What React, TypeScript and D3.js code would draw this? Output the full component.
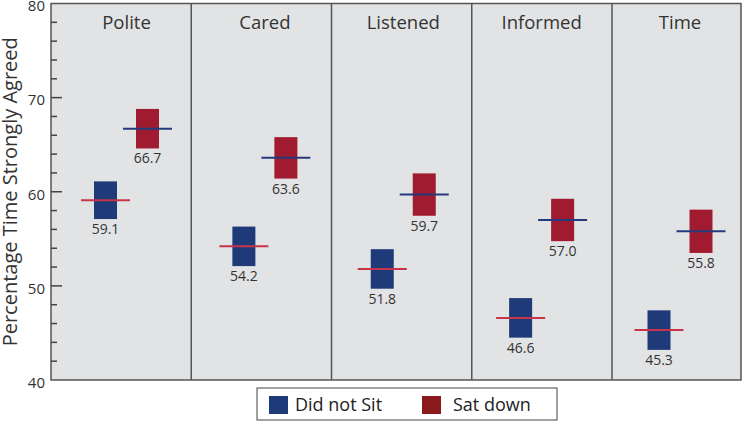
import React from "react";
import * as d3 from "d3";

const categories = ["Polite", "Cared", "Listened", "Informed", "Time"];
const didNotSit = [59.1, 54.2, 51.8, 46.6, 45.3];
const satDown = [66.7, 63.6, 59.7, 57.0, 55.8];
const didNotSitErr = [2.0, 2.1, 2.1, 2.1, 2.1];
const satDownErr = [2.1, 2.2, 2.25, 2.25, 2.3];
const yTicksMajor = [40, 50, 60, 70, 80];
const seriesNames = ["Did not Sit", "Sat down"];

const W = 747;
const H = 427;
const FONT = "'Open Sans', 'Noto Sans', sans-serif";
const BLUE = "#1f3a78";
const RED = "#a11b30";
const RED_LINE = "#c8344a";
const BLUE_LINE = "#243a7c";
const LEG_RED = "#8a1a1e";

export default function App() {
  const plotL = 51, plotR = 741, plotT = 3.5, plotB = 380;
  const y = d3.scaleLinear().domain([40, 80]).range([plotB, plotT]);
  const divX = d3.scaleLinear().domain([0, 4]).range([plotL, 612]);
  const groupX = d3.scaleLinear().domain([0, 4]).range([126.5, 680]);
  const off = 21;
  const boxW = 23;
  const lineW = 49;
  const minorTicks = d3.range(40, 81, 2);

  const series = [
    { name: seriesNames[0], vals: didNotSit, err: didNotSitErr, fill: BLUE, line: RED_LINE, dx: -off },
    { name: seriesNames[1], vals: satDown, err: satDownErr, fill: RED, line: BLUE_LINE, dx: off },
  ];

  return (
    <svg width={W} height={H} style={{ position: "absolute", left: 0, top: 0, background: "#fff" }} fontFamily={FONT}>
      <rect x={plotL} y={plotT} width={plotR - plotL} height={plotB - plotT} fill="#e2e3e5" />
      {categories.slice(1).map((c, i) => (
        <line key={c} x1={divX(i + 1)} x2={divX(i + 1)} y1={plotT} y2={plotB} stroke="#555" strokeWidth={1.5} />
      ))}
      <rect x={plotL} y={plotT} width={plotR - plotL} height={plotB - plotT} fill="none" stroke="#555" strokeWidth={1.5} />
      {minorTicks.map((t) => {
        const major = yTicksMajor.includes(t);
        if (t === 40 || t === 80) return null;
        return (
          <line key={t} x1={plotL} x2={plotL + (major ? 11 : 6)} y1={y(t)} y2={y(t)} stroke="#444" strokeWidth={1.5} />
        );
      })}
      {yTicksMajor.map((t) => (
        <text key={t} x={45} y={y(t) + 2.5} dy="0.35em" textAnchor="end" fontSize={15} fill="#333">{t}</text>
      ))}
      <text transform={`translate(17,${(plotT + plotB) / 2}) rotate(-90)`} textAnchor="middle" fontSize={20} fill="#333">
        Percentage Time Strongly Agreed
      </text>
      {categories.map((c, i) => (
        <text key={c} x={groupX(i)} y={29} textAnchor="middle" fontSize={18.5} fill="#333">{c}</text>
      ))}
      {series.map((s) =>
        categories.map((c, i) => {
          const cx = groupX(i) + s.dx;
          const v = s.vals[i];
          const top = y(v + s.err[i]);
          const bot = y(v - s.err[i]);
          return (
            <g key={s.name + c}>
              <rect x={cx - boxW / 2} y={top} width={boxW} height={bot - top} fill={s.fill} />
              <line x1={cx - lineW / 2} x2={cx + lineW / 2} y1={y(v)} y2={y(v)} stroke={s.line} strokeWidth={2} />
              <text x={cx} y={bot + 15} textAnchor="middle" fontSize={14} fill="#333">{v.toFixed(1)}</text>
            </g>
          );
        })
      )}
      <rect x={257} y={388} width={300} height={32} fill="#fff" stroke="#444" strokeWidth={1} />
      <rect x={269} y={396} width={19} height={18} fill={BLUE} />
      <text x={295} y={411} fontSize={18} fill="#222">{seriesNames[0]}</text>
      <rect x={422} y={396} width={19} height={18} fill={LEG_RED} />
      <text x={453} y={411} fontSize={18} fill="#222">{seriesNames[1]}</text>
    </svg>
  );
}
